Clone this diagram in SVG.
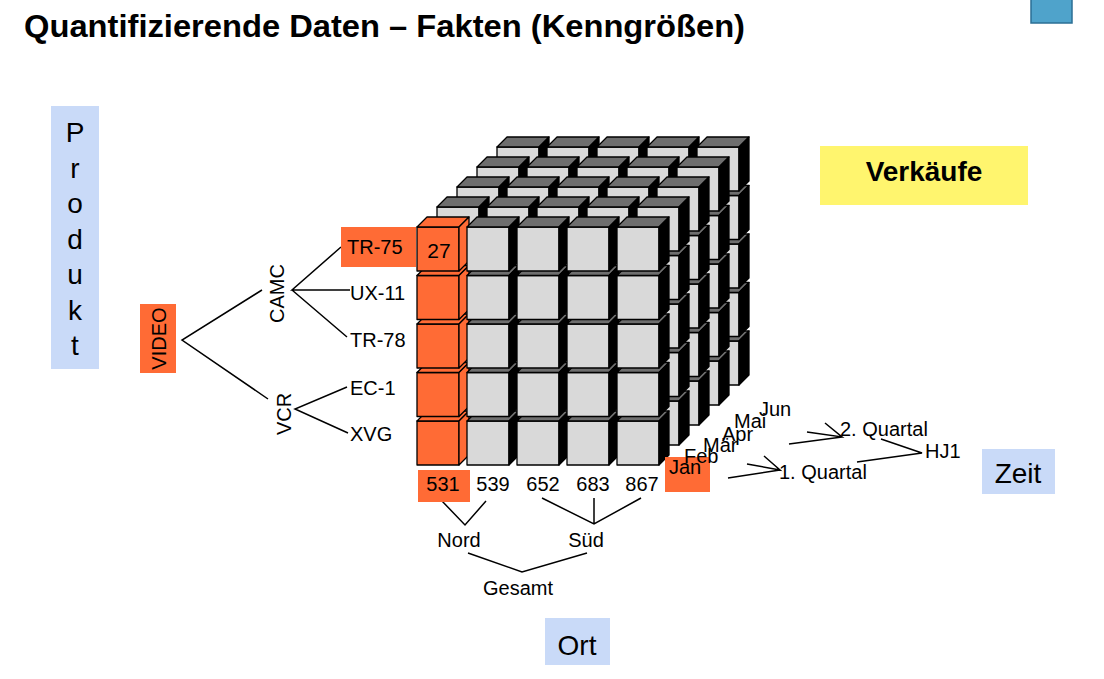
<svg xmlns="http://www.w3.org/2000/svg" xmlns:xlink="http://www.w3.org/1999/xlink" width="1104" height="679" viewBox="0 0 1104 679">
<style>
text{font-family:"Liberation Sans",Arial,sans-serif;fill:#000}
.lbl{font-size:20px}
.big{font-size:28px}
.ttl{font-size:32px;font-weight:bold}
.c-edge{stroke:#000;stroke-width:1.3;stroke-linejoin:round}
.gf{fill:#d9d9d9}.gt{fill:#6e6e6e}.gr{fill:#000}
.of{fill:#ff6b35}
.blue{fill:#c9daf8}
.ln{fill:none;stroke:#000;stroke-width:1.5}
</style>
<defs>
<g id="gc" class="c-edge">
<rect class="gf" x="0" y="0" width="42" height="44"/>
<polygon class="gt" points="0,0 10,-10 52,-10 42,0"/>
<polygon class="gr" points="42,0 52,-10 52,34 42,44"/>
</g>
<g id="oc" class="c-edge">
<rect class="of" x="0" y="0" width="42" height="44"/>
<polygon class="of" points="0,0 10,-10 52,-10 42,0"/>
<polygon class="of" points="42,0 52,-10 52,34 42,44"/>
</g>
</defs>
<rect width="1104" height="679" fill="#fff"/>
<g id="title"><text class="ttl" x="24" y="37" textLength="721" lengthAdjust="spacingAndGlyphs">Quantifizierende Daten – Fakten (Kenngrößen)</text></g>
<g id="icon"><rect x="1031" y="-2" width="41" height="25" fill="#4fa3cb" stroke="#2b6f95" stroke-width="1.5"/></g>
<g id="cube">
<!-- layer 4 -->
<use href="#gc" x="497" y="341"/><use href="#gc" x="497" y="292.5"/><use href="#gc" x="497" y="244"/><use href="#gc" x="497" y="195.5"/><use href="#gc" x="497" y="147"/>
<use href="#gc" x="547" y="341"/><use href="#gc" x="547" y="292.5"/><use href="#gc" x="547" y="244"/><use href="#gc" x="547" y="195.5"/><use href="#gc" x="547" y="147"/>
<use href="#gc" x="597" y="341"/><use href="#gc" x="597" y="292.5"/><use href="#gc" x="597" y="244"/><use href="#gc" x="597" y="195.5"/><use href="#gc" x="597" y="147"/>
<use href="#gc" x="647" y="341"/><use href="#gc" x="647" y="292.5"/><use href="#gc" x="647" y="244"/><use href="#gc" x="647" y="195.5"/><use href="#gc" x="647" y="147"/>
<use href="#gc" x="697" y="341"/><use href="#gc" x="697" y="292.5"/><use href="#gc" x="697" y="244"/><use href="#gc" x="697" y="195.5"/><use href="#gc" x="697" y="147"/>
<!-- layer 3 -->
<use href="#gc" x="477" y="361"/><use href="#gc" x="477" y="312.5"/><use href="#gc" x="477" y="264"/><use href="#gc" x="477" y="215.5"/><use href="#gc" x="477" y="167"/>
<use href="#gc" x="527" y="361"/><use href="#gc" x="527" y="312.5"/><use href="#gc" x="527" y="264"/><use href="#gc" x="527" y="215.5"/><use href="#gc" x="527" y="167"/>
<use href="#gc" x="577" y="361"/><use href="#gc" x="577" y="312.5"/><use href="#gc" x="577" y="264"/><use href="#gc" x="577" y="215.5"/><use href="#gc" x="577" y="167"/>
<use href="#gc" x="627" y="361"/><use href="#gc" x="627" y="312.5"/><use href="#gc" x="627" y="264"/><use href="#gc" x="627" y="215.5"/><use href="#gc" x="627" y="167"/>
<use href="#gc" x="677" y="361"/><use href="#gc" x="677" y="312.5"/><use href="#gc" x="677" y="264"/><use href="#gc" x="677" y="215.5"/><use href="#gc" x="677" y="167"/>
<!-- layer 2 -->
<use href="#gc" x="457" y="381"/><use href="#gc" x="457" y="332.5"/><use href="#gc" x="457" y="284"/><use href="#gc" x="457" y="235.5"/><use href="#gc" x="457" y="187"/>
<use href="#gc" x="507" y="381"/><use href="#gc" x="507" y="332.5"/><use href="#gc" x="507" y="284"/><use href="#gc" x="507" y="235.5"/><use href="#gc" x="507" y="187"/>
<use href="#gc" x="557" y="381"/><use href="#gc" x="557" y="332.5"/><use href="#gc" x="557" y="284"/><use href="#gc" x="557" y="235.5"/><use href="#gc" x="557" y="187"/>
<use href="#gc" x="607" y="381"/><use href="#gc" x="607" y="332.5"/><use href="#gc" x="607" y="284"/><use href="#gc" x="607" y="235.5"/><use href="#gc" x="607" y="187"/>
<use href="#gc" x="657" y="381"/><use href="#gc" x="657" y="332.5"/><use href="#gc" x="657" y="284"/><use href="#gc" x="657" y="235.5"/><use href="#gc" x="657" y="187"/>
<!-- layer 1 -->
<use href="#gc" x="437" y="401"/><use href="#gc" x="437" y="352.5"/><use href="#gc" x="437" y="304"/><use href="#gc" x="437" y="255.5"/><use href="#gc" x="437" y="207"/>
<use href="#gc" x="487" y="401"/><use href="#gc" x="487" y="352.5"/><use href="#gc" x="487" y="304"/><use href="#gc" x="487" y="255.5"/><use href="#gc" x="487" y="207"/>
<use href="#gc" x="537" y="401"/><use href="#gc" x="537" y="352.5"/><use href="#gc" x="537" y="304"/><use href="#gc" x="537" y="255.5"/><use href="#gc" x="537" y="207"/>
<use href="#gc" x="587" y="401"/><use href="#gc" x="587" y="352.5"/><use href="#gc" x="587" y="304"/><use href="#gc" x="587" y="255.5"/><use href="#gc" x="587" y="207"/>
<use href="#gc" x="637" y="401"/><use href="#gc" x="637" y="352.5"/><use href="#gc" x="637" y="304"/><use href="#gc" x="637" y="255.5"/><use href="#gc" x="637" y="207"/>
<!-- layer 0 (front) -->
<use href="#oc" x="417" y="421"/><use href="#oc" x="417" y="372.5"/><use href="#oc" x="417" y="324"/><use href="#oc" x="417" y="275.5"/><use href="#oc" x="417" y="227"/>
<use href="#gc" x="467" y="421"/><use href="#gc" x="467" y="372.5"/><use href="#gc" x="467" y="324"/><use href="#gc" x="467" y="275.5"/><use href="#gc" x="467" y="227"/>
<use href="#gc" x="517" y="421"/><use href="#gc" x="517" y="372.5"/><use href="#gc" x="517" y="324"/><use href="#gc" x="517" y="275.5"/><use href="#gc" x="517" y="227"/>
<use href="#gc" x="567" y="421"/><use href="#gc" x="567" y="372.5"/><use href="#gc" x="567" y="324"/><use href="#gc" x="567" y="275.5"/><use href="#gc" x="567" y="227"/>
<use href="#gc" x="617" y="421"/><use href="#gc" x="617" y="372.5"/><use href="#gc" x="617" y="324"/><use href="#gc" x="617" y="275.5"/><use href="#gc" x="617" y="227"/>
<text x="439" y="258" text-anchor="middle" style="font-size:21px">27</text>
</g>
<g id="connectors" class="ln">
<path d="M262,290 L182,340 L268,399"/>
<path d="M341,247 L292,290 L350,290 M292,290 L347,337"/>
<path d="M347,387 L295,409 L348,433"/>
<path d="M442,501 L465,525 L486,501"/>
<path d="M542,498 L594,524 L641,498 M594,498 L594,524"/>
<path d="M468,553 L522,572 L587,553"/>
<path d="M728,478 L780,470 M747,464 L780,470 L764,456"/>
<path d="M789,444 L842,437 M807,432 L842,437 L825,423"/>
<path d="M857,462 L922,453 L881,439"/>
</g>
<g id="produkt"><rect class="blue" x="51" y="106" width="48" height="263"/>
<text class="big" text-anchor="middle"><tspan x="75" y="142">P</tspan><tspan x="75" y="177.5">r</tspan><tspan x="75" y="213">o</tspan><tspan x="75" y="248.5">d</tspan><tspan x="75" y="284">u</tspan><tspan x="75" y="319.5">k</tspan><tspan x="75" y="355">t</tspan></text></g>
<g id="video"><rect class="of" x="140" y="304" width="36" height="69"/><text class="lbl" transform="translate(166,338.5) rotate(-90)" text-anchor="middle">VIDEO</text></g>
<g id="camc"><text class="lbl" transform="translate(284,293.5) rotate(-90)" text-anchor="middle">CAMC</text></g>
<g id="vcr"><text class="lbl" transform="translate(291,414) rotate(-90)" text-anchor="middle">VCR</text></g>
<g id="tr75"><rect class="of" x="341" y="227" width="75" height="40"/><text class="lbl" x="347" y="254">TR-75</text></g>
<g id="ux11"><text class="lbl" x="350" y="300">UX-11</text></g>
<g id="tr78"><text class="lbl" x="350" y="347">TR-78</text></g>
<g id="ec1"><text class="lbl" x="350" y="395">EC-1</text></g>
<g id="xvg"><text class="lbl" x="350" y="441">XVG</text></g>
<g id="n531"><rect class="of" x="418" y="470" width="52" height="32"/><text class="lbl" x="443" y="491" text-anchor="middle">531</text></g>
<g id="n539"><text class="lbl" x="493" y="491" text-anchor="middle">539</text></g>
<g id="n652"><text class="lbl" x="543" y="491" text-anchor="middle">652</text></g>
<g id="n683"><text class="lbl" x="593" y="491" text-anchor="middle">683</text></g>
<g id="n867"><text class="lbl" x="642" y="491" text-anchor="middle">867</text></g>
<g id="nord"><text class="lbl" x="459" y="547" text-anchor="middle">Nord</text></g>
<g id="sued"><text class="lbl" x="586" y="547" text-anchor="middle">Süd</text></g>
<g id="gesamt"><text class="lbl" x="518" y="595" text-anchor="middle">Gesamt</text></g>
<g id="jan"><rect class="of" x="665" y="457" width="45" height="35"/><text class="lbl" x="669" y="474">Jan</text></g>
<g id="feb"><text class="lbl" x="684" y="463">Feb</text></g>
<g id="maer"><text class="lbl" x="703" y="452">Mär</text></g>
<g id="apr"><text class="lbl" x="722" y="441">Apr</text></g>
<g id="mai"><text class="lbl" x="734" y="428">Mai</text></g>
<g id="jun"><text class="lbl" x="759" y="416">Jun</text></g>
<g id="q1"><text class="lbl" x="779" y="479">1. Quartal</text></g>
<g id="q2"><text class="lbl" x="840" y="436">2. Quartal</text></g>
<g id="hj1"><text class="lbl" x="925" y="458">HJ1</text></g>
<g id="verkaeufe"><rect x="820" y="146" width="208" height="59" fill="#fff56e"/><text x="924" y="181" text-anchor="middle" style="font-size:28px;font-weight:bold">Verkäufe</text></g>
<g id="zeit"><rect class="blue" x="982" y="449" width="73" height="45"/><text class="big" x="1018" y="483" text-anchor="middle">Zeit</text></g>
<g id="ort"><rect class="blue" x="545" y="618" width="65" height="47"/><text class="big" x="577" y="655" text-anchor="middle">Ort</text></g>
</svg>
